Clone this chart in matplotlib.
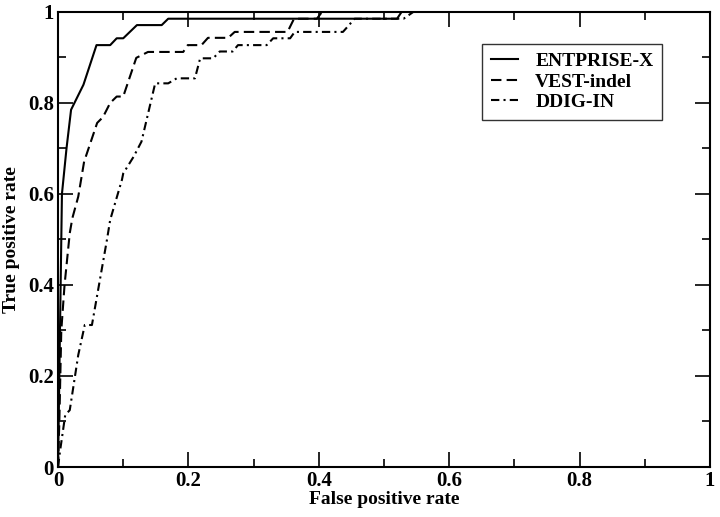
import matplotlib
matplotlib.use("Agg")
import matplotlib.pyplot as plt
from matplotlib.ticker import MultipleLocator

plt.rcParams["font.family"] = ["Liberation Serif", "DejaVu Serif"]
plt.rcParams["font.weight"] = "bold"

# ROC curves
entprise_fpr = [0.0, 0.002, 0.004, 0.006, 0.013, 0.020, 0.039, 0.059, 0.080, 0.090,
                0.100, 0.121, 0.159, 0.169, 0.520, 0.527, 1.0]
entprise_tpr = [0.0, 0.20, 0.40, 0.60, 0.70, 0.785, 0.840, 0.927, 0.927, 0.942,
                0.942, 0.971, 0.971, 0.985, 0.985, 1.0, 1.0]

vest_fpr = [0.0, 0.002, 0.005, 0.010, 0.018, 0.022, 0.031, 0.040, 0.060, 0.069,
            0.080, 0.090, 0.100, 0.120, 0.138, 0.192, 0.199, 0.220, 0.230, 0.261,
            0.271, 0.352, 0.362, 0.397, 0.405, 1.0]
vest_tpr = [0.0, 0.10, 0.30, 0.40, 0.514, 0.547, 0.594, 0.671, 0.756, 0.769,
            0.800, 0.814, 0.814, 0.899, 0.912, 0.912, 0.927, 0.927, 0.943, 0.943,
            0.956, 0.956, 0.985, 0.985, 1.0, 1.0]

ddig_fpr = [0.0, 0.003, 0.011, 0.018, 0.031, 0.041, 0.052, 0.075, 0.080, 0.098,
            0.100, 0.116, 0.128, 0.149, 0.169, 0.182, 0.210, 0.218, 0.238, 0.248,
            0.268, 0.276, 0.320, 0.330, 0.356, 0.363, 0.437, 0.455, 0.530, 0.545, 1.0]
ddig_tpr = [0.0, 0.034, 0.114, 0.125, 0.246, 0.312, 0.312, 0.499, 0.543, 0.631,
            0.645, 0.682, 0.715, 0.843, 0.843, 0.854, 0.854, 0.898, 0.898, 0.913,
            0.913, 0.927, 0.927, 0.942, 0.942, 0.956, 0.956, 0.985, 0.985, 1.0, 1.0]

fig = plt.figure(figsize=(7.2, 5.17), dpi=100)
ax = fig.add_axes([0.0806, 0.0967, 0.9055, 0.8803])

ax.plot(entprise_fpr, entprise_tpr, "k-", lw=1.5, label="ENTPRISE-X")
ax.plot(vest_fpr, vest_tpr, color="k", lw=1.5, dashes=(5, 2.5), label="VEST-indel")
ax.plot(ddig_fpr, ddig_tpr, color="k", lw=1.5, dashes=(4, 2, 1, 2),
        label="DDIG-IN")

ax.set_xlim(0, 1)
ax.set_ylim(0, 1)
ax.xaxis.set_major_locator(MultipleLocator(0.2))
ax.xaxis.set_minor_locator(MultipleLocator(0.1))
ax.yaxis.set_major_locator(MultipleLocator(0.2))
ax.yaxis.set_minor_locator(MultipleLocator(0.1))
ax.xaxis.set_major_formatter(plt.FuncFormatter(lambda v, p: "%g" % round(v, 2)))
ax.yaxis.set_major_formatter(plt.FuncFormatter(lambda v, p: "%g" % round(v, 2)))
ax.tick_params(which="both", direction="in", top=True, right=True, width=1.2,
               labelsize=15)
ax.tick_params(which="major", length=11, pad=3)
ax.tick_params(which="minor", length=6)
for s in ax.spines.values():
    s.set_linewidth(1.5)

ax.set_xlabel("False positive rate", fontsize=14, fontweight="bold", labelpad=0)
ax.set_ylabel("True positive rate", fontsize=14, fontweight="bold", labelpad=6)

leg = ax.legend(loc="upper left", bbox_to_anchor=(0.65, 0.93), borderaxespad=0,
                fancybox=False, edgecolor="k", fontsize=14, handlelength=1.4,
                labelspacing=0.15, borderpad=0.45, handletextpad=0.9)
leg.get_frame().set_linewidth(1.0)
for t in leg.get_texts():
    t.set_fontweight("bold")

fig.savefig("out.png", dpi=100)
